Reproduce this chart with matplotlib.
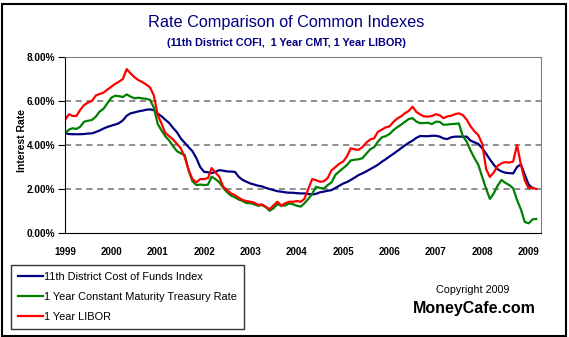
import matplotlib
matplotlib.use("Agg")
import matplotlib.pyplot as plt
import pandas as pd
from matplotlib.patches import Rectangle

plt.rcParams['font.family'] = ['Liberation Sans', 'DejaVu Sans']

# monthly index values (%), starting January 1999
cofi = [
    4.53, 4.50, 4.49, 4.49, 4.49, 4.50, 4.52, 4.53, 4.59, 4.66, 4.75, 4.82,  # 1999
    4.88, 4.93, 4.99, 5.12, 5.33, 5.44, 5.48, 5.53, 5.56, 5.60, 5.62, 5.58,  # 2000
    5.42, 5.30, 5.15, 5.00, 4.78, 4.58, 4.30, 4.10, 3.90, 3.72, 3.40, 3.00,  # 2001
    2.78, 2.76, 2.72, 2.78, 2.86, 2.83, 2.80, 2.79, 2.78, 2.55, 2.41, 2.33,  # 2002
    2.25, 2.20, 2.15, 2.12, 2.05, 2.00, 1.95, 1.90, 1.88, 1.85, 1.83, 1.83,  # 2003
    1.81, 1.80, 1.80, 1.78, 1.75, 1.78, 1.85, 1.88, 1.92, 1.95, 2.05, 2.15,  # 2004
    2.25, 2.32, 2.41, 2.52, 2.63, 2.71, 2.80, 2.90, 3.00, 3.10, 3.24, 3.35,  # 2005
    3.48, 3.60, 3.72, 3.85, 3.98, 4.10, 4.20, 4.33, 4.41, 4.40, 4.40, 4.42,  # 2006
    4.42, 4.38, 4.30, 4.27, 4.35, 4.38, 4.38, 4.38, 4.38, 4.20, 4.12, 4.05,  # 2007
    3.85, 3.60, 3.35, 3.10, 2.90, 2.80, 2.74, 2.72, 2.71, 3.00, 3.12, 2.65,  # 2008
    2.20, 2.03,                                                              # 2009
]

cmt = [
    4.53, 4.70, 4.76, 4.73, 4.83, 5.06, 5.10, 5.14, 5.29, 5.52, 5.65, 5.90,
    6.15, 6.24, 6.22, 6.18, 6.30, 6.20, 6.12, 6.15, 6.12, 6.10, 6.05, 5.70,
    4.95, 4.65, 4.40, 4.20, 3.95, 3.72, 3.62, 3.55, 2.85, 2.35, 2.18, 2.20,
    2.18, 2.20, 2.56, 2.45, 2.30, 2.05, 1.85, 1.70, 1.62, 1.52, 1.45, 1.36,
    1.36, 1.30, 1.24, 1.27, 1.18, 1.01, 1.12, 1.31, 1.24, 1.25, 1.34, 1.31,
    1.24, 1.20, 1.35, 1.55, 1.78, 2.10, 2.05, 2.02, 2.18, 2.30, 2.65, 2.80,
    2.95, 3.10, 3.30, 3.33, 3.35, 3.40, 3.60, 3.80, 3.90, 4.15, 4.35, 4.40,
    4.50, 4.68, 4.80, 4.92, 5.05, 5.18, 5.22, 5.06, 4.99, 5.00, 5.01, 4.95,
    5.06, 5.05, 4.92, 4.93, 4.95, 4.96, 4.98, 4.40, 4.15, 3.75, 3.40, 3.10,
    2.55, 2.00, 1.55, 1.80, 2.15, 2.41, 2.28, 2.18, 2.03, 1.50, 1.07, 0.50,
    0.44, 0.62, 0.64,
]

libor = [
    5.14, 5.40, 5.32, 5.32, 5.60, 5.82, 5.93, 6.00, 6.25, 6.32, 6.38, 6.52,
    6.65, 6.78, 6.88, 7.00, 7.45, 7.25, 7.08, 6.95, 6.86, 6.75, 6.62, 6.25,
    5.36, 4.95, 4.55, 4.40, 4.25, 4.05, 3.85, 3.45, 2.85, 2.45, 2.30, 2.45,
    2.45, 2.50, 2.95, 2.75, 2.55, 2.10, 1.95, 1.80, 1.72, 1.60, 1.50, 1.45,
    1.42, 1.38, 1.28, 1.30, 1.20, 1.08, 1.25, 1.42, 1.25, 1.35, 1.42, 1.42,
    1.45, 1.42, 1.55, 2.00, 2.45, 2.40, 2.33, 2.35, 2.50, 2.85, 3.00, 3.15,
    3.25, 3.50, 3.85, 3.80, 3.78, 3.90, 4.10, 4.25, 4.30, 4.60, 4.70, 4.80,
    4.85, 5.05, 5.20, 5.30, 5.44, 5.55, 5.74, 5.50, 5.38, 5.30, 5.29, 5.32,
    5.40, 5.35, 5.22, 5.30, 5.33, 5.40, 5.44, 5.36, 5.15, 4.85, 4.62, 4.45,
    4.05, 2.90, 2.55, 2.75, 3.05, 3.17, 3.22, 3.20, 3.25, 4.00, 3.10, 2.40,
    2.03, 2.06, 2.00,
]

labels = ["11th District Cost of Funds Index",
          "1 Year Constant Maturity Treasury Rate",
          "1 Year LIBOR"]
colors = ["#000080", "#008000", "#FF0000"]
years = list(range(1999, 2010))
yticks = [0, 2, 4, 6, 8]

W, H = 569, 337
fig = plt.figure(figsize=(W / 100, H / 100), dpi=100)

def fx(px):
    return px / W

def fy(py):
    return 1 - py / H

# plot area
ax = fig.add_axes([fx(65), fy(233), fx(541) - fx(65), fy(57) - fy(233)])

for series, lab, col in zip([cofi, cmt, libor], labels, colors):
    dates = pd.date_range("1999-01-01", periods=len(series), freq="MS")
    ax.plot(dates, series, color=col, lw=1.6, label=lab)

ax.set_ylim(0, 8)
ax.set_xlim(pd.Timestamp("1999-01-01"), pd.Timestamp("2009-04-08"))
ax.set_yticks(yticks)
ax.set_yticklabels([f"{v:.2f}%" for v in yticks], fontsize=7.2, fontweight="bold")
ax.set_xticks([pd.Timestamp(f"{y}-01-01") for y in years])
ax.set_xticklabels([str(y) for y in years], fontsize=7, fontweight="bold")
ax.tick_params(axis="y", direction="out", length=5, width=0.8, pad=2)
ax.tick_params(axis="x", length=0, pad=10)

# dashed gridlines
for v in [2, 4, 6]:
    ax.axhline(v, color="#707070", lw=1.1, ls=(0, (4, 3)), zorder=0)

for side in ["top", "right"]:
    ax.spines[side].set_color("#808080")
for side in ["left", "bottom"]:
    ax.spines[side].set_color("black")

fig.text(fx(22), fy(140), "Interest Rate", fontsize=7.5, fontweight="bold",
         rotation=90, ha="center", va="center")

# titles
fig.text(fx(286), fy(22), "Rate Comparison of Common Indexes",
         fontsize=11.7, color="#000080", ha="center", va="center")
fig.text(fx(286), fy(43), "(11th District COFI,  1 Year CMT, 1 Year LIBOR)",
         fontsize=7.8, fontweight="bold", color="#000080", ha="center", va="center")

# legend
handles, labs = ax.get_legend_handles_labels()
leg = fig.legend(handles, labs, loc="upper left", bbox_to_anchor=(fx(11), fy(265)),
                 borderaxespad=0, fontsize=7.9, frameon=True, fancybox=False,
                 edgecolor="black", handlelength=2.3, handletextpad=0.1,
                 labelspacing=0.9, borderpad=0.65)
leg.get_frame().set_linewidth(1.0)

fig.text(fx(473), fy(290), "Copyright 2009", fontsize=7.75, ha="center", va="center")
fig.text(fx(474), fy(309), "MoneyCafe.com", fontsize=11.5, fontweight="bold",
         ha="center", va="center")

# outer border
fig.patches.append(Rectangle((fx(2), fy(336)), fx(566) - fx(2), fy(4) - fy(336),
                             transform=fig.transFigure, fill=False,
                             edgecolor="black", lw=1.5))

fig.savefig("out.png", dpi=100)
